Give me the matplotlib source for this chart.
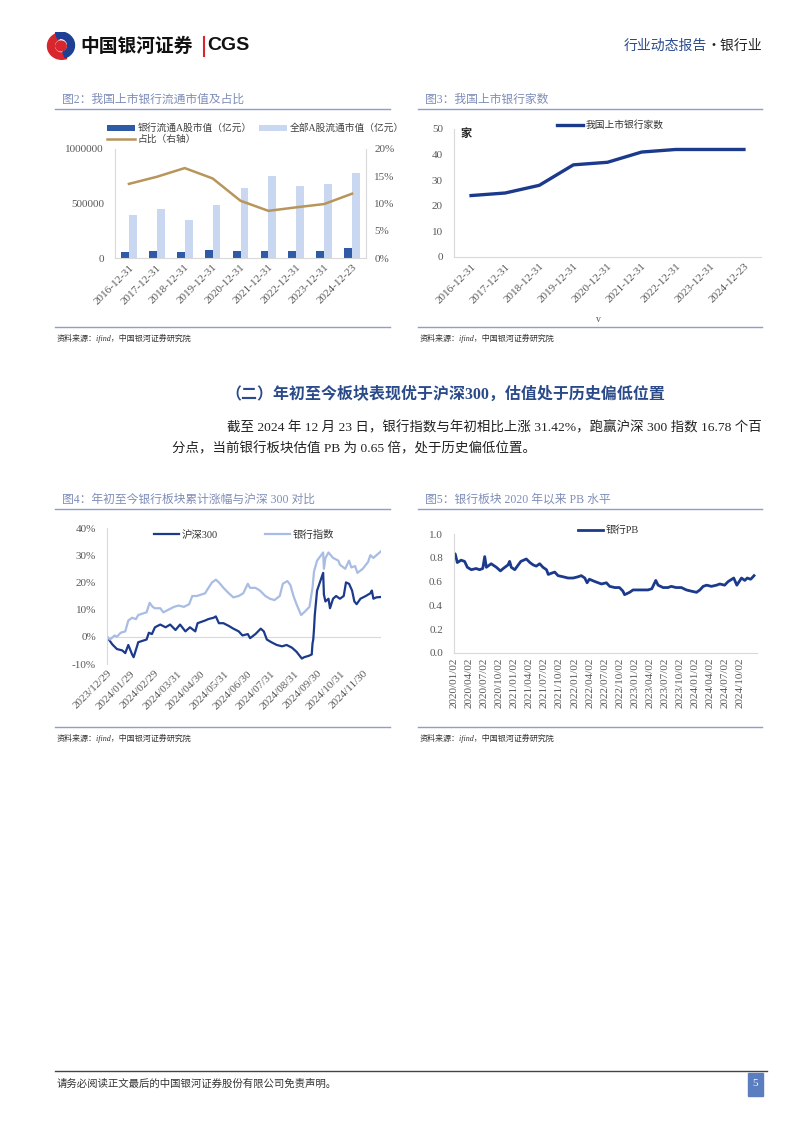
import numpy as np
import pandas as pd
import matplotlib
matplotlib.use('Agg')
import matplotlib.pyplot as plt
from matplotlib.patches import Rectangle, Wedge
from matplotlib.lines import Line2D
from matplotlib.ticker import FuncFormatter

plt.rcParams['font.family'] = ['Liberation Serif', 'Noto Sans CJK SC']
plt.rcParams['axes.unicode_minus'] = False

W, H = 802, 1133

# 图2 / 图3 数据
years = ['2016-12-31', '2017-12-31', '2018-12-31', '2019-12-31', '2020-12-31',
         '2021-12-31', '2022-12-31', '2023-12-31', '2024-12-23']
bank_mv = [52000, 67000, 58000, 70000, 67000, 64000, 61000, 67000, 89000]
total_mv = [390000, 448000, 353000, 485000, 644000, 755000, 663000, 678000, 779000]
ratio = [13.6, 14.9, 16.5, 14.6, 10.5, 8.65, 9.3, 9.9, 11.8]
bank_count = [24, 25, 28, 36, 37, 41, 42, 42, 42]

# 图4 数据 (年初至今累计涨幅, %)
hs300_dates = ['2023-12-29', '2024-01-05', '2024-01-11', '2024-01-18', '2024-01-22', '2024-01-26',
               '2024-01-31', '2024-02-02', '2024-02-07', '2024-02-08', '2024-02-19', '2024-02-22',
               '2024-02-26', '2024-03-01', '2024-03-08', '2024-03-15', '2024-03-21', '2024-03-28',
               '2024-04-03', '2024-04-10', '2024-04-16', '2024-04-23', '2024-04-26', '2024-05-06',
               '2024-05-10', '2024-05-17', '2024-05-20', '2024-05-24', '2024-05-30', '2024-06-06',
               '2024-06-12', '2024-06-19', '2024-06-24', '2024-07-01', '2024-07-04', '2024-07-11',
               '2024-07-18', '2024-07-22', '2024-07-26', '2024-08-01', '2024-08-08', '2024-08-15',
               '2024-08-21', '2024-08-28', '2024-09-03', '2024-09-10', '2024-09-13', '2024-09-19',
               '2024-09-23', '2024-09-24', '2024-09-25', '2024-09-26', '2024-09-27', '2024-09-30',
               '2024-10-08', '2024-10-09', '2024-10-11', '2024-10-15', '2024-10-17', '2024-10-21',
               '2024-10-25', '2024-10-30', '2024-11-04', '2024-11-07', '2024-11-11', '2024-11-15',
               '2024-11-18', '2024-11-21', '2024-11-26', '2024-12-03', '2024-12-09', '2024-12-11',
               '2024-12-13', '2024-12-17', '2024-12-23']
hs300 = [0, -2.8, -4.5, -5, -6, -3,
         -6.5, -7.5, -3, -2, -1, 1.5,
         1, 3.5, 4.5, 3.5, 4.5, 2.5,
         4.5, 2, 3.5, 2, 5, 6,
         6.5, 7, 7.5, 5, 5, 4,
         3, 2, 0.5, 1, -0.5, 1,
         3, 2, -1, -2, -3, -3.5,
         -3, -4, -5.5, -8, -7.5, -7,
         -6.5, -2.5, -1, 3, 8, 17,
         23.5, 15.5, 13, 14, 10.5, 14,
         15, 14, 15, 20, 19.5, 17,
         13, 12, 14, 15, 16, 17,
         14, 14.5, 14.64]

bank_dates = ['2023-12-29', '2024-01-02', '2024-01-08', '2024-01-11', '2024-01-16', '2024-01-22',
              '2024-01-26', '2024-01-31', '2024-02-05', '2024-02-08', '2024-02-19', '2024-02-23',
              '2024-02-27', '2024-03-01', '2024-03-08', '2024-03-12', '2024-03-19', '2024-03-26',
              '2024-04-01', '2024-04-08', '2024-04-15', '2024-04-19', '2024-04-25', '2024-05-06',
              '2024-05-08', '2024-05-15', '2024-05-20', '2024-05-24', '2024-05-30', '2024-06-06',
              '2024-06-12', '2024-06-19', '2024-06-25', '2024-07-01', '2024-07-04', '2024-07-11',
              '2024-07-17', '2024-07-24', '2024-07-30', '2024-08-05', '2024-08-12', '2024-08-16',
              '2024-08-22', '2024-08-26', '2024-08-30', '2024-09-03', '2024-09-09', '2024-09-13',
              '2024-09-20', '2024-09-24', '2024-09-26', '2024-09-30', '2024-10-08', '2024-10-09',
              '2024-10-11', '2024-10-15', '2024-10-21', '2024-10-28', '2024-10-30', '2024-11-06',
              '2024-11-11', '2024-11-14', '2024-11-19', '2024-11-22', '2024-11-29', '2024-12-06',
              '2024-12-09', '2024-12-13', '2024-12-17', '2024-12-23']
bank_idx = [0, -1, 0.5, 0, 1.5, 2,
            6, 7, 6.5, 8, 9, 12.5,
            11, 10.5, 10.5, 9, 10, 11,
            11.5, 11, 12, 15, 15, 16,
            17, 20, 21, 20, 18, 16,
            14.5, 15, 16, 19.5, 18, 18,
            17, 15, 14, 13.5, 15, 19.5,
            20.5, 19, 15, 12, 8, 9,
            11, 18, 24, 28, 31, 25,
            29, 31, 29, 28, 26.5, 25,
            28, 25.5, 26, 23.5, 25, 27.5,
            30, 29, 30, 31.42]
hs_ticks = ['2023-12-29', '2024-01-29', '2024-02-29', '2024-03-31', '2024-04-30', '2024-05-31',
            '2024-06-30', '2024-07-31', '2024-08-31', '2024-09-30', '2024-10-31', '2024-11-30']

# 图5 数据 (银行PB)
pb_dates = ['2020-01-02', '2020-01-10', '2020-01-22', '2020-02-14', '2020-03-06', '2020-03-23',
            '2020-04-16', '2020-05-15', '2020-06-05', '2020-06-24', '2020-07-06', '2020-07-16',
            '2020-08-14', '2020-09-15', '2020-10-09', '2020-10-26', '2020-11-24', '2020-12-04',
            '2020-12-14', '2021-01-04', '2021-01-25', '2021-02-10', '2021-03-15', '2021-04-06',
            '2021-04-26', '2021-05-14', '2021-06-04', '2021-06-24', '2021-07-15', '2021-07-26',
            '2021-08-13', '2021-09-03', '2021-09-23', '2021-10-25', '2021-11-23', '2021-12-23',
            '2022-01-21', '2022-02-11', '2022-03-04', '2022-03-18', '2022-04-01', '2022-05-05',
            '2022-06-13', '2022-07-13', '2022-08-02', '2022-09-02', '2022-09-30', '2022-10-21',
            '2022-10-31', '2022-12-01', '2022-12-21', '2023-01-20', '2023-02-17', '2023-03-22',
            '2023-04-14', '2023-05-08', '2023-05-22', '2023-06-21', '2023-07-21', '2023-08-10',
            '2023-09-08', '2023-10-10', '2023-11-09', '2023-12-08', '2024-01-10', '2024-01-30',
            '2024-02-19', '2024-03-11', '2024-04-09', '2024-05-10', '2024-05-30', '2024-06-28',
            '2024-07-19', '2024-08-22', '2024-09-10', '2024-10-08', '2024-10-28', '2024-11-12',
            '2024-12-02', '2024-12-10', '2024-12-23']
pb = [0.84, 0.83, 0.76, 0.78, 0.77, 0.72,
      0.70, 0.71, 0.70, 0.71, 0.81, 0.72,
      0.75, 0.72, 0.69, 0.71, 0.74, 0.77,
      0.72, 0.70, 0.74, 0.77, 0.79, 0.76,
      0.74, 0.73, 0.75, 0.72, 0.70, 0.66,
      0.67, 0.68, 0.65, 0.64, 0.63, 0.63,
      0.64, 0.65, 0.63, 0.59, 0.62, 0.60,
      0.58, 0.59, 0.56, 0.55, 0.55, 0.52,
      0.49, 0.51, 0.53, 0.53, 0.53, 0.53,
      0.54, 0.61, 0.57, 0.55, 0.55, 0.56,
      0.55, 0.55, 0.53, 0.52, 0.51, 0.53,
      0.56, 0.57, 0.56, 0.57, 0.58, 0.57,
      0.60, 0.63, 0.57, 0.63, 0.61, 0.63,
      0.62, 0.63, 0.65]
pb_ticks = [f'{y}-{m:02d}-02' for y in range(2020, 2025) for m in (1, 4, 7, 10)]

NAVY = '#1b3a8c'
LIGHT = '#a8bce4'
TITLE_C = '#7f8db8'
RULE_C = '#8f9dc8'
TICK_C = '#595959'
SPINE_C = '#d9d9d9'
TICK_FS = 8

fig = plt.figure(figsize=(W / 100, H / 100), dpi=100)


def fx(px):
    return px / W


def fy(py):
    return 1 - py / H


def box(x0, y0, x1, y1):
    return [fx(x0), fy(y1), fx(x1) - fx(x0), fy(y0) - fy(y1)]


def hline(x0, x1, y, color, lw=1.0):
    fig.add_artist(Line2D([fx(x0), fx(x1)], [fy(y), fy(y)], color=color, lw=lw))


def style(ax):
    for s in ax.spines.values():
        s.set_color(SPINE_C)
        s.set_linewidth(0.8)
    ax.spines['top'].set_visible(False)
    ax.spines['right'].set_visible(False)
    ax.tick_params(length=0, labelsize=TICK_FS, colors=TICK_C)


# ---- 页眉 ----
lax = fig.add_axes(box(46, 32, 76, 60))
lax.set_xlim(-1, 1)
lax.set_ylim(-1, 1)
lax.axis('off')
lax.add_patch(Wedge((0.05, 0.0), 0.95, 110, 290, width=0.45, color='#d7262e'))
lax.add_patch(Wedge((-0.05, 0.05), 0.95, -70, 110, width=0.45, color='#1d3f94'))
lax.add_patch(Wedge((0.0, 0.0), 0.35, 0, 360, color='#d7262e'))
fig.text(fx(80), fy(46), '中国银河证券', fontsize=13.5, fontweight='bold',
         family=['Noto Sans CJK SC'], va='center', color='#111111')
fig.add_artist(Line2D([fx(203.5), fx(203.5)], [fy(37), fy(56)], color='#d7262e', lw=1.5))
fig.text(fx(207), fy(46), 'CGS', fontsize=14, fontweight='bold',
         family=['Liberation Sans'], va='center', color='#111111')
fig.text(fx(624), fy(46), '行业动态报告', fontsize=10,
         family=['Noto Sans CJK SC'], va='center', color='#2a4c8e')
fig.text(fx(706), fy(46), '·银行业', fontsize=10,
         family=['Noto Sans CJK SC'], va='center', color='#222222')

# ---- 图表标题与来源 ----
for x0, x1, y, t in [(55, 390, 100, '图2：我国上市银行流通市值及占比'),
                     (418, 762, 100, '图3：我国上市银行家数'),
                     (55, 390, 500, '图4：年初至今银行板块累计涨幅与沪深 300 对比'),
                     (418, 762, 500, '图5：银行板块 2020 年以来 PB 水平')]:
    fig.text(fx(x0 + 7), fy(y), t, fontsize=8.5, color=TITLE_C, va='center')
    hline(x0, x1, y + 9, RULE_C, 1.0)
for x0, x1, y in [(55, 390, 327), (418, 762, 327), (55, 390, 727), (418, 762, 727)]:
    hline(x0, x1, y, RULE_C, 1.0)
    fig.text(fx(x0 + 2), fy(y + 11), '资料来源：ifind，中国银河证券研究院', fontsize=5.8,
             style='italic', color='#333333', va='center')

# ---- 图2 ----
ax2 = fig.add_axes(box(115, 149, 366, 258))
style(ax2)
ax2.spines['right'].set_visible(True)
x = np.arange(len(years))
b1 = ax2.bar(x - 0.14, bank_mv, width=0.28, color='#2f5aa6', label='银行流通A股市值（亿元）')
b2 = ax2.bar(x + 0.14, total_mv, width=0.28, color='#c9d7f0', label='全部A股流通市值（亿元）')
ax2.set_ylim(0, 1000000)
ax2.set_yticks([0, 500000, 1000000])
ax2.yaxis.set_major_formatter(FuncFormatter(lambda v, p: f'{v:.0f}'))
ax2.tick_params(axis='y', pad=8)
ax2.set_xlim(-0.5, len(years) - 0.5)
ax2.set_xticks(x)
ax2.set_xticklabels(years, rotation=45, ha='right', rotation_mode='anchor')
ax2r = ax2.twinx()
l1, = ax2r.plot(x, np.array(ratio) / 100, color='#b8955a', lw=1.8, label='占比（右轴）')
ax2r.set_ylim(0, 0.2)
ax2r.set_yticks([0, 0.05, 0.1, 0.15, 0.2])
ax2r.yaxis.set_major_formatter(FuncFormatter(lambda v, p: f'{v * 100:.0f}%'))
ax2r.tick_params(length=0, labelsize=TICK_FS, colors=TICK_C, pad=6)
for s in ax2r.spines.values():
    s.set_visible(False)
ax2.legend(handles=[b1, l1, b2], ncol=2, loc='lower left', bbox_to_anchor=(-0.05, 1.0),
           frameon=False, fontsize=7, handlelength=2.8, handleheight=0.6, handletextpad=0.3,
           columnspacing=0.8, labelspacing=0.15, borderpad=0, labelcolor='#404040')

# ---- 图3 ----
ax3 = fig.add_axes(box(454, 129, 761, 257))
style(ax3)
ax3.plot(x, bank_count, color=NAVY, lw=2.4, label='我国上市银行家数')
ax3.set_ylim(0, 50)
ax3.set_yticks(range(0, 51, 10))
ax3.tick_params(axis='y', pad=8)
ax3.set_xlim(-0.5, len(years) - 0.5)
ax3.set_xticks(x)
ax3.set_xticklabels(years, rotation=45, ha='right', rotation_mode='anchor')
ax3.legend(loc='center', bbox_to_anchor=(0.51, 1.03), frameon=False, fontsize=7,
           handlelength=2.6, handletextpad=0.3, labelcolor='#333333')
fig.text(fx(461), fy(134), '家', fontsize=8, fontweight='bold', va='center', color='#222222')
fig.text(fx(596), fy(320), 'v', fontsize=7, va='center', color=TICK_C)

# ---- 正文 ----
fig.text(fx(445), fy(395), '（二）年初至今板块表现优于沪深300，估值处于历史偏低位置',
         fontsize=11.5, fontweight='bold', color='#2a4a8a', ha='center', va='center')
fig.text(fx(227), fy(428),
         '截至 2024 年 12 月 23 日，银行指数与年初相比上涨 31.42%，跑赢沪深 300 指数 16.78 个百',
         fontsize=9.7, color='#222222', va='center')
fig.text(fx(172), fy(449), '分点，当前银行板块估值 PB 为 0.65 倍，处于历史偏低位置。',
         fontsize=9.7, color='#222222', va='center')

# ---- 图4 ----
ax4 = fig.add_axes(box(107, 528, 381, 664))
style(ax4)
ax4.spines['bottom'].set_visible(False)
ax4.axhline(0, color=SPINE_C, lw=0.8)
ax4.plot(pd.to_datetime(hs300_dates), np.array(hs300) / 100, color=NAVY, lw=1.6, label='沪深300')
ax4.plot(pd.to_datetime(bank_dates), np.array(bank_idx) / 100, color=LIGHT, lw=1.6, label='银行指数')
ax4.set_ylim(-0.1, 0.4)
ax4.set_yticks([-0.1, 0, 0.1, 0.2, 0.3, 0.4])
ax4.yaxis.set_major_formatter(FuncFormatter(lambda v, p: f'{v * 100:.0f}%'))
ax4.tick_params(axis='y', pad=8)
ax4.set_xlim(pd.Timestamp('2023-12-29'), pd.Timestamp('2024-12-23'))
ax4.set_xticks(pd.to_datetime(hs_ticks))
ax4.set_xticklabels([d.replace('-', '/') for d in hs_ticks], rotation=45, ha='right',
                    rotation_mode='anchor')
ax4.legend(ncol=2, loc='center', bbox_to_anchor=(0.5, 0.95), frameon=False, fontsize=7.5,
           handlelength=2.4, handletextpad=0.3, columnspacing=4.5, labelcolor='#333333')

# ---- 图5 ----
ax5 = fig.add_axes(box(454, 534, 757, 653))
style(ax5)
ax5.plot(pd.to_datetime(pb_dates), pb, color=NAVY, lw=2.0, label='银行PB')
ax5.set_ylim(0, 1.0)
ax5.set_yticks(np.arange(0, 1.01, 0.2))
ax5.yaxis.set_major_formatter(FuncFormatter(lambda v, p: f'{v:.1f}'))
ax5.tick_params(axis='y', pad=8)
ax5.set_xlim(pd.Timestamp('2020-01-02'), pd.Timestamp('2025-01-10'))
ax5.set_xticks(pd.to_datetime(pb_ticks))
ax5.set_xticklabels([d.replace('-', '/') for d in pb_ticks], rotation=90, ha='center')
ax5.tick_params(axis='x', labelsize=8)
ax5.legend(loc='center', bbox_to_anchor=(0.51, 1.03), frameon=False, fontsize=7.5,
           handlelength=2.4, handletextpad=0.3, labelcolor='#333333')

# ---- 页脚 ----
hline(55, 767, 1071, '#444444', 1.0)
fig.text(fx(57), fy(1084), '请务必阅读正文最后的中国银河证券股份有限公司免责声明。', fontsize=7.5,
         color='#333333', va='center')
fig.add_artist(Rectangle((fx(748), fy(1096)), fx(15), fy(1073) - fy(1096),
                         color='#5b7ec0', transform=fig.transFigure))
fig.text(fx(755.5), fy(1084), '5', fontsize=8, color='white', ha='center', va='center')

fig.savefig('out.png', dpi=100)
